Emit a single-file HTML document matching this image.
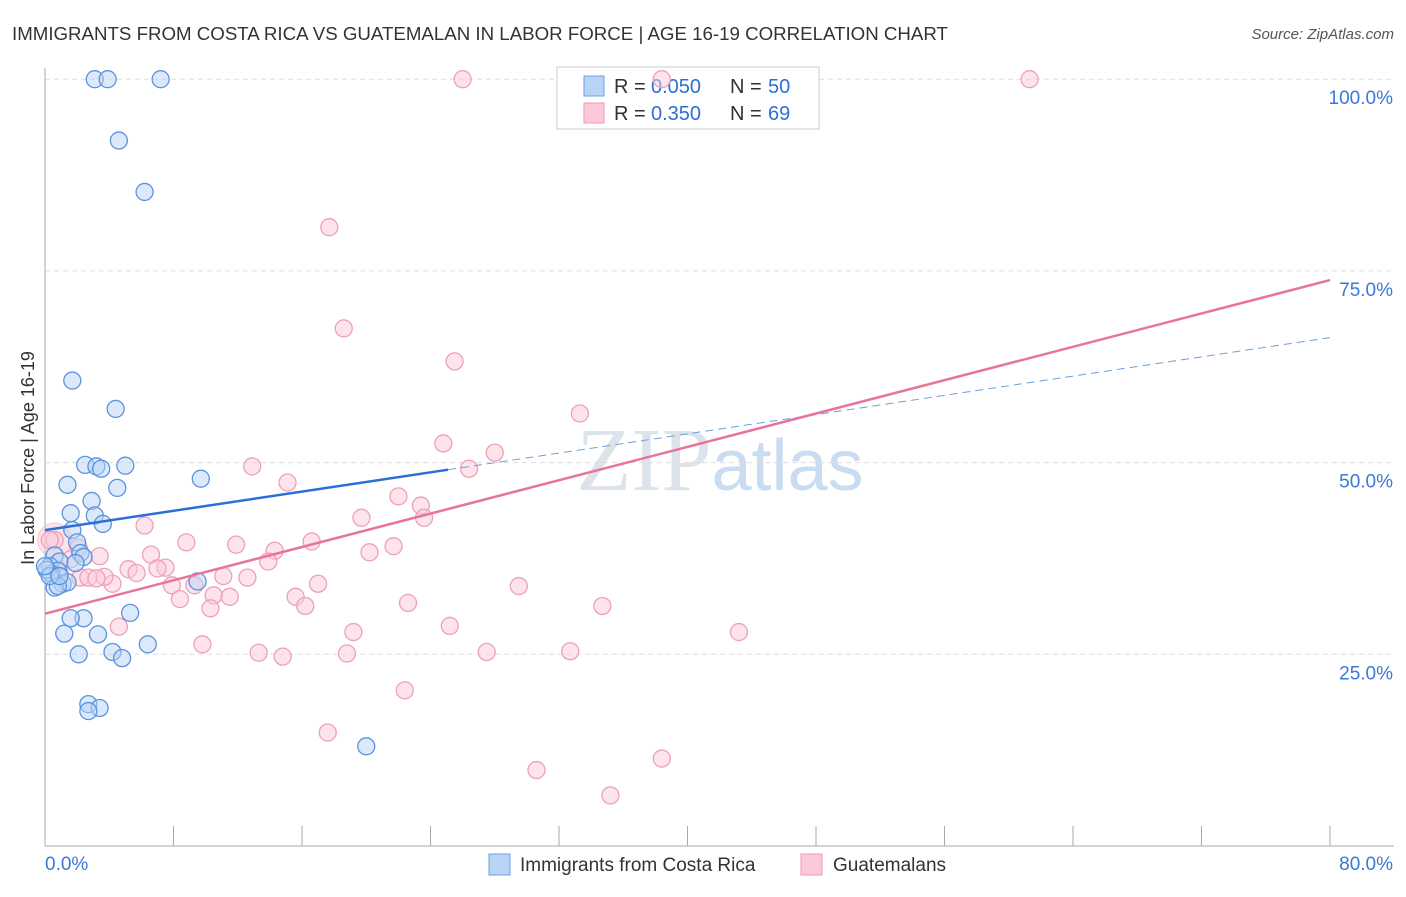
<!DOCTYPE html>
<html><head><meta charset="utf-8"><style>
body{margin:0;background:#fff;font-family:"Liberation Sans",sans-serif;}
</style></head><body>
<svg id="chart" width="1406" height="892" xmlns="http://www.w3.org/2000/svg" font-family="Liberation Sans, sans-serif">
<text x="12" y="40" font-size="18.7" fill="#333">IMMIGRANTS FROM COSTA RICA VS GUATEMALAN IN LABOR FORCE | AGE 16-19 CORRELATION CHART</text>
<text x="1394" y="39" font-size="15" fill="#555" font-style="italic" text-anchor="end">Source: ZipAtlas.com</text>
<text x="720" y="490" font-size="90" fill="#dde3ea" text-anchor="middle" font-family="Liberation Serif, serif">ZIP<tspan fill="#c9dcf2" font-family="Liberation Sans, sans-serif" font-size="72">atlas</tspan></text>
<g id="grid"></g><g id="axes"></g>
<g>
<rect x="557" y="67" width="262" height="62" fill="#fff" stroke="#ccc"/>
<rect x="584" y="76" width="20" height="20" fill="#b8d4f5" stroke="#6a9fe0"/>
<rect x="584" y="103" width="20" height="20" fill="#fcc9d8" stroke="#ee9ab4"/>
<text x="614" y="93" font-size="20" fill="#333">R =</text>
<text x="651" y="93" font-size="20" fill="#2e6fd6">0.050</text>
<text x="730" y="93" font-size="20" fill="#333">N =</text>
<text x="768" y="93" font-size="20" fill="#2e6fd6">50</text>
<text x="614" y="120" font-size="20" fill="#333">R =</text>
<text x="651" y="120" font-size="20" fill="#2e6fd6">0.350</text>
<text x="730" y="120" font-size="20" fill="#333">N =</text>
<text x="768" y="120" font-size="20" fill="#2e6fd6">69</text>
</g>
<g id="pts"></g><g id="lines"></g>
<text transform="translate(34,458) rotate(-90)" font-size="18" fill="#333" text-anchor="middle">In Labor Force | Age 16-19</text>
<g>
<rect x="489" y="854" width="21" height="21" fill="#b8d4f5" stroke="#6a9fe0"/>
<text x="520" y="871" font-size="19" fill="#333">Immigrants from Costa Rica</text>
<rect x="801" y="854" width="21" height="21" fill="#fcc9d8" stroke="#ee9ab4"/>
<text x="833" y="871" font-size="19" fill="#333">Guatemalans</text>
</g>
</svg>
<script>
const xTicks=[0,80];
const yTicks=[25,50,75,100];
const blueX=[3.1,3.9,7.2,4.6,6.2,1.7,4.4,2.5,3.2,3.5,5.0,9.7,1.4,4.5,2.9,1.6,3.1,3.6,1.7,2.0,0.6,2.2,2.4,0.9,1.9,0.3,0.8,0.4,0.1,1.1,1.4,0.6,0.8,9.5,5.3,1.2,3.3,2.4,1.6,2.1,4.2,4.8,6.4,2.7,3.4,2.7,20.0,0.3,0.9,0.0];
const blueY=[100,100,100,92,85.3,60.7,57,49.7,49.5,49.2,49.6,47.9,47.1,46.7,45,43.4,43.1,42,41.2,39.6,37.9,38.2,37.7,37.1,36.9,36.5,35.9,35.5,36,34.2,34.4,33.7,33.9,34.5,30.4,27.7,27.6,29.7,29.7,25,25.3,24.5,26.3,18.5,18,17.6,13,35.2,35.2,36.5];
const pinkX=[26.0,38.4,61.3,17.7,18.6,25.5,33.3,24.8,28.0,26.4,12.9,15.1,22.0,23.4,23.6,19.7,6.2,8.8,11.9,16.6,14.3,21.7,20.2,0.6,13.9,6.6,3.4,1.6,7.5,7.0,5.2,5.7,11.1,12.6,2.2,4.2,3.7,17.0,7.9,9.3,29.5,10.5,11.5,8.4,15.6,16.2,22.6,10.3,34.7,4.6,25.2,19.2,43.2,9.8,27.5,32.7,13.3,14.8,18.8,22.4,17.6,30.6,38.4,35.2,2.7,0.9,3.2,0.3,2.1];
const pinkY=[100,100,100,80.7,67.5,63.2,56.4,52.5,51.3,49.2,49.5,47.4,45.6,44.4,42.8,42.8,41.8,39.6,39.3,39.7,38.5,39.1,38.3,39.9,37.1,38,37.8,37.4,36.3,36.2,36.1,35.6,35.2,35,35,34.2,35.1,34.2,34,34,33.9,32.7,32.5,32.2,32.5,31.3,31.7,31,31.3,28.6,28.7,27.9,27.9,26.3,25.3,25.4,25.2,24.7,25.1,20.3,14.8,9.9,11.4,6.6,35,35.7,34.9,39.9,38.9];
const blueFit=[41.2,66.3], pinkFit=[30.3,73.8];
const X=v=>45+v*1285/80, Y=v=>846-v*7.668;
const NS="http://www.w3.org/2000/svg";
function mk(p,t,a){const e=document.createElementNS(NS,t);for(const k in a)e.setAttribute(k,a[k]);document.getElementById(p).appendChild(e);return e;}
yTicks.forEach(t=>{
 const l=mk('grid','line',{x1:45,x2:1394,y1:Y(t),y2:Y(t),stroke:'#ddd','stroke-dasharray':'5,4'});
 
 
 const tx=mk('axes','text',{x:1393,y:Y(t)+25,'font-size':19,fill:'#3b78d8','text-anchor':'end'});
 tx.textContent=t.toFixed(1)+'%';
 
 
});
mk('axes','line',{x1:45,x2:45,y1:68,y2:846,stroke:'#aaa'});
mk('axes','line',{x1:45,x2:1394,y1:846,y2:846,stroke:'#aaa'});
for(let i=0;i<=10;i++){mk('axes','line',{x1:X(i*8),x2:X(i*8),y1:826,y2:846,stroke:'#aaa'});}
xTicks.forEach((t,i)=>{
 const tx=mk('axes','text',{x:i?1393:45,y:870,'font-size':19,fill:'#3b78d8','text-anchor':i?'end':'start'});
 tx.textContent=t.toFixed(1)+'%';
 
 
});
mk('pts','circle',{cx:X(0.6),cy:Y(39.9),r:17,fill:'#fcc9d8','fill-opacity':0.5,stroke:'#eea0b8','stroke-opacity':0.5});
pinkX.forEach((v,i)=>{
 const c=mk('pts','circle',{cx:X(v),cy:Y(pinkY[i]),r:8.5,fill:'#fcc9d8','fill-opacity':0.5,stroke:'#eea0b8','stroke-width':1.3});
 
 
});
blueX.forEach((v,i)=>{
 const c=mk('pts','circle',{cx:X(v),cy:Y(blueY[i]),r:8.5,fill:'#b8d4f5','fill-opacity':0.5,stroke:'#5b93de','stroke-width':1.3});
 
 
});
const bAt=x=>blueFit[0]+(blueFit[1]-blueFit[0])*x/80;
let l1=mk('lines','line',{x1:X(0),y1:Y(bAt(0)),x2:X(25.1),y2:Y(bAt(25.1)),stroke:'#2a6fd6','stroke-width':2.5});


let l2=mk('lines','line',{x1:X(25.1),y1:Y(bAt(25.1)),x2:X(80),y2:Y(bAt(80)),stroke:'#6a9fe0','stroke-width':1,'stroke-dasharray':'8,5'});


let l3=mk('lines','line',{x1:X(0),y1:Y(pinkFit[0]),x2:X(80),y2:Y(pinkFit[1]),stroke:'#e8739b','stroke-width':2.5});


</script>
</body></html>
